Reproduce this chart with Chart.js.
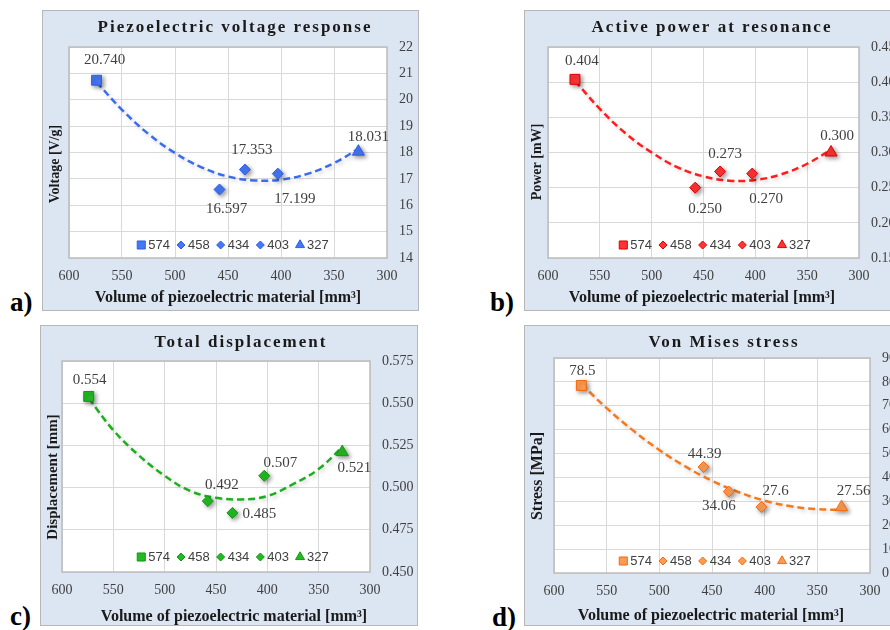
<!DOCTYPE html>
<html>
<head>
<meta charset="utf-8">
<script src="https://cdn.jsdelivr.net/npm/chart.js@4.4.0/dist/chart.umd.min.js"></script>
<style>
  body { margin: 0; background: #fff; width: 890px; height: 630px; overflow: hidden; position: relative; }
  canvas { position: absolute; }
  .tag { position: absolute; font: bold 27px "Liberation Serif", serif; line-height: 27px; color: #000; }
</style>
</head>
<body>
<canvas id="chartA" width="377" height="301" style="left:42px;top:10px"></canvas>
<canvas id="chartB" width="377" height="301" style="left:524px;top:10px"></canvas>
<canvas id="chartC" width="378" height="301" style="left:40px;top:325px"></canvas>
<canvas id="chartD" width="377" height="301" style="left:524px;top:325px"></canvas>
<div class="tag" style="left:10px;top:289px">a)</div>
<div class="tag" style="left:490px;top:289px">b)</div>
<div class="tag" style="left:10px;top:603px">c)</div>
<div class="tag" style="left:492px;top:604px">d)</div>
<script>
// ---- data ----
const volumes = [574, 458, 434, 403, 327];          // mm3, one marker per sample
const sampleNames = ["574", "458", "434", "403", "327"];

const voltage = [20.740, 16.597, 17.353, 17.199, 18.031];
const voltageText = ["20.740", "16.597", "17.353", "17.199", "18.031"];
const power = [0.404, 0.250, 0.273, 0.270, 0.300];
const powerText = ["0.404", "0.250", "0.273", "0.270", "0.300"];
const displacement = [0.554, 0.492, 0.485, 0.507, 0.521];
const displacementText = ["0.554", "0.492", "0.485", "0.507", "0.521"];
const stress = [78.5, 44.39, 34.06, 27.6, 27.56];
const stressText = ["78.5", "44.39", "34.06", "27.6", "27.56"];

// dashed trend lines (2nd order)
const trendVolumes = [574, 550, 525, 500, 475, 450, 425, 400, 375, 350, 327];
const voltageTrend = [20.67, 19.62, 18.70, 17.98, 17.44, 17.09, 16.94, 16.97, 17.19, 17.60, 18.14];
const powerTrend = [0.402, 0.362, 0.327, 0.300, 0.279, 0.266, 0.260, 0.261, 0.269, 0.284, 0.304];
const displacementTrend = [0.553, 0.534, 0.519, 0.507, 0.498, 0.494, 0.493, 0.495, 0.502, 0.511, 0.524];
const stressTrend = [79.1, 69.0, 59.7, 51.5, 44.5, 38.6, 33.9, 30.3, 27.9, 26.7, 26.5];

// tick values
const volumeTicks = [300, 350, 400, 450, 500, 550, 600];
const voltageTicks = [14, 15, 16, 17, 18, 19, 20, 21, 22];
const powerTicks = [0.15, 0.20, 0.25, 0.30, 0.35, 0.40, 0.45];
const displacementTicks = [0.450, 0.475, 0.500, 0.525, 0.550, 0.575];
const stressTicks = [0, 10, 20, 30, 40, 50, 60, 70, 80, 90];

const markerStyles = ["rect", "rectRot", "rectRot", "rectRot", "triangle"];
const markerSizes = [7, 5.5, 5.5, 5.5, 7];
const legendSizes = [5.7, 4, 4, 4, 5.2];

const SERIF = '"Liberation Serif", "Times New Roman", serif';
const SANS = '"Liberation Sans", Arial, sans-serif';

// ---- drawing helpers ----
function spacedText(ctx, text, cx, cy, spacing) {
  ctx.letterSpacing = "0px";
  const w = ctx.measureText(text).width + spacing * (text.length - 1);
  ctx.letterSpacing = spacing + "px";
  ctx.textAlign = "left";
  ctx.fillText(text, cx - w / 2, cy);
  ctx.letterSpacing = "0px";
}

function makeDecor(p) {
  return {
    id: "decor",
    beforeDraw(chart) {
      const { ctx, width, height, chartArea: a } = chart;
      ctx.save();
      ctx.fillStyle = "#dce6f2";
      ctx.fillRect(0, 0, width, height);
      ctx.strokeStyle = "#b7b7b7";
      ctx.lineWidth = 1;
      ctx.strokeRect(0.5, 0.5, width - 1, height - 1);
      ctx.fillStyle = "#ffffff";
      ctx.fillRect(a.left, a.top, a.right - a.left, a.bottom - a.top);
      ctx.restore();
    },
    beforeDatasetsDraw(chart) {
      const { ctx, chartArea: a } = chart;
      ctx.save();
      ctx.strokeStyle = "#bcbcbc";
      ctx.lineWidth = 1.5;
      ctx.strokeRect(a.left, a.top, a.right - a.left, a.bottom - a.top);
      ctx.restore();
    },
    beforeDatasetDraw(chart, args) {
      const ctx = chart.ctx;
      ctx.save();
      ctx.shadowColor = args.index < 5 ? "rgba(0,0,0,0.4)" : "rgba(0,0,0,0.2)";
      ctx.shadowBlur = 4;
      ctx.shadowOffsetX = 2;
      ctx.shadowOffsetY = 2;
    },
    afterDatasetDraw(chart) {
      chart.ctx.restore();
    },
    afterDraw(chart) {
      const ctx = chart.ctx;
      ctx.save();
      ctx.textBaseline = "middle";

      // chart title
      ctx.fillStyle = "#1a1a1a";
      ctx.font = "bold 17px " + SERIF;
      spacedText(ctx, p.title, p.titleX, p.titleY, 2);

      // x axis title
      ctx.font = "bold 16px " + SERIF;
      ctx.textAlign = "center";
      ctx.fillText("Volume of piezoelectric material [mm\u00b3]", p.xTitleX, p.xTitleY);

      // y axis title (rotated)
      ctx.save();
      ctx.translate(p.yTitleX, p.yTitleY);
      ctx.rotate(-Math.PI / 2);
      ctx.font = "bold " + p.yTitleSize + "px " + SERIF;
      ctx.fillText(p.yTitle, 0, 0);
      ctx.restore();

      // data labels
      ctx.font = "15px " + SERIF;
      ctx.fillStyle = "#404040";
      ctx.textAlign = "center";
      for (let i = 0; i < 5; i++) {
        const pt = chart.getDatasetMeta(i).data[0];
        ctx.fillText(p.texts[i], pt.x + p.labelOffsets[i][0], pt.y + p.labelOffsets[i][1]);
      }

      // in-plot legend
      ctx.font = "13px " + SANS;
      const widths = sampleNames.map(n => 8 + 3 + ctx.measureText(n).width);
      const total = widths.reduce((s, w) => s + w, 0) + 7 * (widths.length - 1);
      let x = p.legendX - total / 2;
      ctx.textAlign = "left";
      for (let i = 0; i < 5; i++) {
        ctx.fillStyle = p.fill;
        ctx.strokeStyle = p.border;
        ctx.lineWidth = 1;
        Chart.helpers.drawPoint(ctx, { pointStyle: markerStyles[i], radius: legendSizes[i], rotation: 0, borderWidth: 1 }, x + 4, p.legendY);
        ctx.fillStyle = "#404040";
        ctx.fillText(sampleNames[i], x + 11, p.legendY);
        x += widths[i] + 7;
      }
      ctx.restore();
    }
  };
}

function makePanel(p) {
  const datasets = volumes.map((v, i) => ({
    data: [{ x: v, y: p.values[i] }],
    pointStyle: markerStyles[i],
    pointRadius: markerSizes[i],
    backgroundColor: p.fill,
    borderColor: p.border,
    borderWidth: 1
  }));
  datasets.push({
    data: trendVolumes.map((v, i) => ({ x: v, y: p.trend[i] })),
    showLine: true,
    pointRadius: 0,
    borderColor: p.line,
    borderWidth: 2.5,
    borderDash: [7, 4],
    tension: 0.4,
    fill: false
  });

  new Chart(document.getElementById(p.id), {
    type: "scatter",
    data: { datasets: datasets },
    options: {
      responsive: false,
      animation: false,
      events: [],
      layout: { padding: { left: p.left, top: p.top, right: 0, bottom: 0 } },
      plugins: { legend: { display: false }, tooltip: { enabled: false } },
      scales: {
        x: {
          type: "linear",
          reverse: true,
          min: 300,
          max: 600,
          afterBuildTicks: s => { s.ticks = volumeTicks.map(v => ({ value: v })); },
          afterFit: s => { s.height = p.xAxisH; },
          grid: { color: "#d9d9d9", drawTicks: false },
          border: { display: false },
          ticks: { padding: 10, color: "#404040", font: { family: SERIF, size: 14 }, maxRotation: 0, autoSkip: false }
        },
        y: {
          position: "right",
          min: p.yTicks[0],
          max: p.yTicks[p.yTicks.length - 1],
          afterBuildTicks: s => { s.ticks = p.yTicks.map(v => ({ value: v })); },
          afterFit: s => { s.width = p.yAxisW; },
          grid: { color: "#d9d9d9", drawTicks: false },
          border: { display: false },
          ticks: {
            padding: 12,
            color: "#404040",
            font: { family: SERIF, size: 14 },
            autoSkip: false,
            callback: v => v.toFixed(p.decimals)
          }
        }
      }
    },
    plugins: [makeDecor(p)]
  });
}

makePanel({
  id: "chartA", values: voltage, texts: voltageText, trend: voltageTrend, yTicks: voltageTicks, decimals: 0,
  line: "#3a6cf0", fill: "#4677f4", border: "#2d5fe6",
  left: 27, top: 37, yAxisW: 32, xAxisH: 53,
  title: "Piezoelectric voltage response", titleX: 192, titleY: 18,
  yTitle: "Voltage [V/g]", yTitleX: 13, yTitleY: 154, yTitleSize: 14,
  xTitleX: 186, xTitleY: 288, legendX: 191, legendY: 235,
  labelOffsets: [[8, -20], [7, 20], [7, -20], [17, 25], [10, -15]]
});

makePanel({
  id: "chartB", values: power, texts: powerText, trend: powerTrend, yTicks: powerTicks, decimals: 2,
  line: "#ff1c1c", fill: "#ff3434", border: "#dd0000",
  left: 24, top: 37, yAxisW: 42, xAxisH: 53,
  title: "Active power at resonance", titleX: 187, titleY: 18,
  yTitle: "Power [mW]", yTitleX: 13, yTitleY: 152, yTitleSize: 14,
  xTitleX: 178, xTitleY: 288, legendX: 191, legendY: 235,
  labelOffsets: [[7, -18], [10, 21], [5, -17], [14, 25], [6, -16]]
});

makePanel({
  id: "chartC", values: displacement, texts: displacementText, trend: displacementTrend, yTicks: displacementTicks, decimals: 3,
  line: "#1fae1f", fill: "#22bb22", border: "#149614",
  left: 22, top: 36, yAxisW: 48, xAxisH: 54,
  title: "Total displacement", titleX: 200, titleY: 18,
  yTitle: "Displacement [mm]", yTitleX: 13, yTitleY: 152, yTitleSize: 15,
  xTitleX: 194, xTitleY: 292, legendX: 193, legendY: 232,
  labelOffsets: [[1, -16], [14, -16], [27, 1], [16, -13], [12, 16]]
});

makePanel({
  id: "chartD", values: stress, texts: stressText, trend: stressTrend, yTicks: stressTicks, decimals: 0,
  line: "#f57a1e", fill: "#ff9c52", border: "#f06a10",
  left: 30, top: 33, yAxisW: 31, xAxisH: 53,
  title: "Von Mises stress", titleX: 199, titleY: 18,
  yTitle: "Stress [MPa]", yTitleX: 14, yTitleY: 151, yTitleSize: 16,
  xTitleX: 187, xTitleY: 291, legendX: 191, legendY: 236,
  labelOffsets: [[1, -14], [1, -13], [-10, 14], [14, -16], [12, -16]]
});
</script>
</body>
</html>
